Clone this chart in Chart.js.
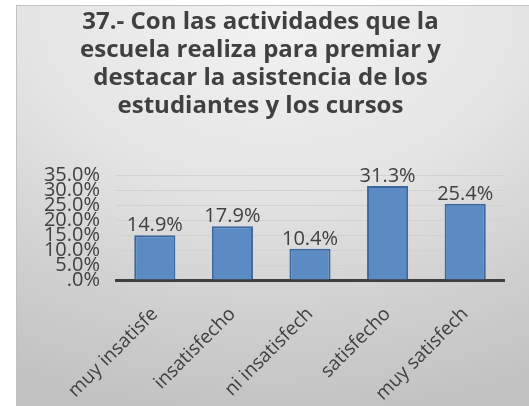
<!DOCTYPE html>
<html>
<head>
<meta charset="utf-8">
<script src="https://cdn.jsdelivr.net/npm/chart.js@4.4.1/dist/chart.umd.min.js"></script>
<style>
  html, body { margin: 0; padding: 0; width: 529px; height: 406px; overflow: hidden; background: #ffffff; }
  #frame {
    position: absolute; left: 16px; top: 5px; width: 520px; height: 410px;
    border-left: 1px solid #c2c2c2; border-top: 1px solid #c2c2c2;
    background: radial-gradient(ellipse 110% 100% at 50% 0%, #f3f3f3 0%, #e4e4e4 45%, #d0d0d0 75%, #c2c2c2 100%);
  }
  #wrap { position: absolute; left: 17px; top: 6px; width: 512px; height: 400px; }
</style>
</head>
<body>
<div id="frame"></div>
<div id="wrap"><canvas id="c" width="512" height="400"></canvas></div>
<script>
const titleLines = ["37.- Con las actividades que la", "escuela realiza para premiar y", "destacar la asistencia de los", "estudiantes y los cursos"];
const categories = ["muy insatisfe", "insatisfecho", "ni insatisfech", "satisfecho", "muy satisfech"];
const values = [14.9, 17.9, 10.4, 31.3, 25.4];
const yMin = 0, yMax = 35, yStep = 5;

const FONT = "'Open Sans', sans-serif";
const TEXT = "#404040";

const valueLabels = {
  id: "valueLabels",
  afterDatasetsDraw(chart) {
    const ctx = chart.ctx;
    const meta = chart.getDatasetMeta(0);
    ctx.save();
    ctx.font = "20px " + FONT;
    ctx.fillStyle = TEXT;
    ctx.textAlign = "center";
    ctx.textBaseline = "alphabetic";
    meta.data.forEach((bar, i) => {
      ctx.fillText(values[i].toFixed(1) + "%", bar.x, bar.y - 4);
    });
    ctx.restore();
  }
};

new Chart(document.getElementById("c"), {
  type: "bar",
  data: {
    labels: categories,
    datasets: [{
      data: values,
      backgroundColor: "#5b8bc3",
      borderColor: "#3b67a0",
      borderWidth: 2,
      categoryPercentage: 1,
      barPercentage: 0.53
    }]
  },
  options: {
    responsive: false,
    animation: false,
    layout: { padding: { left: 0, right: 25, top: 0, bottom: 0 } },
    plugins: {
      legend: { display: false },
      tooltip: { enabled: false },
      title: {
        display: true,
        text: titleLines,
        color: TEXT,
        font: { family: FONT, size: 24, weight: "bold", lineHeight: "28px" },
        padding: { top: 2, bottom: 55 }
      }
    },
    scales: {
      x: {
        grid: { display: false, drawTicks: false },
        border: { display: true, color: "#3f3f3f", width: 3 },
        ticks: {
          color: TEXT, font: { family: FONT, size: 19 },
          maxRotation: 45, minRotation: 45, autoSkip: false,
          padding: 23, labelOffset: 0
        },
        afterFit(axis) { axis.height = 126; }
      },
      y: {
        min: yMin, max: yMax,
        grid: { color: "#d2d2d2", lineWidth: 1, drawTicks: false },
        border: { display: false },
        ticks: {
          stepSize: yStep, autoSkip: false, color: TEXT, padding: 16,
          font: { family: FONT, size: 20, lineHeight: 1 },
          callback: (v) => (v === 0 ? ".0%" : v.toFixed(1) + "%")
        },
        afterFit(axis) { axis.width = 99; }
      }
    }
  },
  plugins: [valueLabels]
});
</script>
</body>
</html>
